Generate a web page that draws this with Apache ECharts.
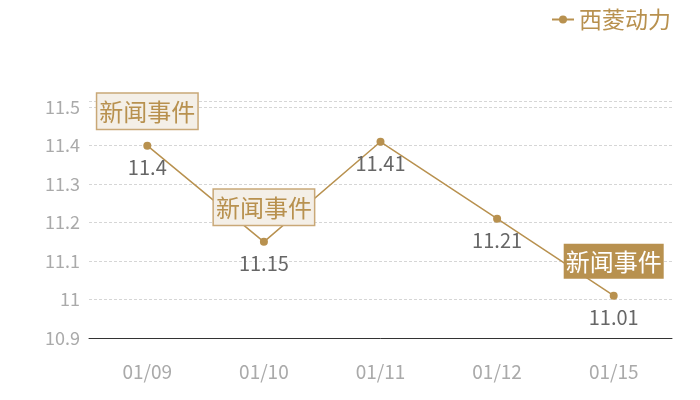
<!DOCTYPE html>
<html>
<head>
<meta charset="utf-8">
<script src="https://cdn.jsdelivr.net/npm/echarts@6/dist/echarts.min.js"></script>
<style>
  html, body { margin: 0; padding: 0; background: #fff; }
  #chart { width: 700px; height: 400px; }
</style>
</head>
<body>
<div id="chart"></div>
<script>
var categories = ['01/09', '01/10', '01/11', '01/12', '01/15'];
var values = [11.4, 11.15, 11.41, 11.21, 11.01];
var seriesName = '西菱动力';
var eventIdx = [0, 1, 4];          // 有新闻事件的日期
var eventText = '新闻事件';
var eventDark = [false, false, true];

var gold = '#b8914f';
var font = '"Noto Sans CJK SC", "Noto Sans", sans-serif';

var chart = echarts.init(document.getElementById('chart'));

var markData = [];
for (var i = 0; i < eventIdx.length; i++) {
    var k = eventIdx[i];
    var dark = eventDark[i];
    markData.push({
        coord: [k, values[k]],
        value: eventText,
        label: {
            color: dark ? '#fff' : gold,
            backgroundColor: dark ? gold : '#f4efe7',
            borderColor: dark ? gold : '#c9a877',
            borderWidth: dark ? 0 : 1.5
        }
    });
}

var option = {
    animation: false,
    textStyle: { fontFamily: font },
    legend: {
        right: 24,
        top: 3,
        itemWidth: 22,
        itemHeight: 10,
        itemGap: 7,
        data: [seriesName],
        textStyle: { color: gold, fontSize: 23, fontFamily: font }
    },
    grid: { left: 89, right: 28, top: 101, bottom: 62 },
    xAxis: {
        type: 'category',
        data: categories,
        axisLine: { lineStyle: { color: '#333', width: 1 } },
        axisTick: { show: false },
        axisLabel: { color: '#aaa', fontSize: 19, margin: 24, fontFamily: font }
    },
    yAxis: {
        type: 'value',
        min: 10.9,
        max: 11.516,
        interval: 0.1,
        axisLine: { show: false },
        axisTick: { show: false },
        axisLabel: {
            color: '#aaa', fontSize: 18, margin: 9, fontFamily: font,
            showMaxLabel: false,
            formatter: function (v) { return +v.toFixed(1); }
        },
        splitLine: { lineStyle: { color: '#d6d6d6', type: [3, 2], width: 1 } }
    },
    series: [{
        name: seriesName,
        type: 'line',
        data: values,
        symbol: 'circle',
        symbolSize: 8,
        color: gold,
        lineStyle: { color: gold, width: 1.5 },
        itemStyle: { color: gold },
        label: {
            show: true,
            position: 'bottom',
            distance: 8,
            color: '#666',
            fontSize: 20,
            fontFamily: font
        },
        markPoint: {
            symbol: 'circle',
            symbolSize: 0,
            label: {
                show: true,
                position: 'top',
                distance: 17,
                fontSize: 24,
                lineHeight: 28,
                fontFamily: font,
                padding: [4, 2, 3, 2],
                formatter: function (p) { return p.value; }
            },
            data: markData
        }
    }]
};

chart.setOption(option);
</script>
</body>
</html>
